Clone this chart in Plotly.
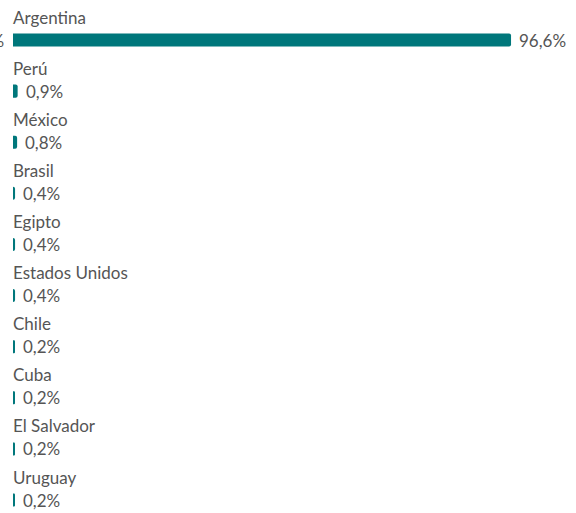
import plotly.graph_objects as go

countries = ["Argentina", "Perú", "México", "Brasil", "Egipto", "Estados Unidos",
             "Chile", "Cuba", "El Salvador", "Uruguay"]
values = [96.6, 0.9, 0.8, 0.4, 0.4, 0.4, 0.2, 0.2, 0.2, 0.2]
labels = ["96,6%", "0,9%", "0,8%", "0,4%", "0,4%", "0,4%", "0,2%", "0,2%", "0,2%", "0,2%"]

BAR = "#00777B"
TXT = "#555555"
FONT = "Lato, 'Noto Sans', sans-serif"
FS = 17

pos = list(range(len(countries)))
min_vis = 0.35
disp = [max(v, min_vis) for v in values]

fig = go.Figure(go.Bar(
    x=disp, y=pos, orientation="h", width=0.255,
    marker=dict(color=BAR, line=dict(width=0)),
    hoverinfo="skip",
))

ann = []
for i, (c, v, lab) in enumerate(zip(countries, disp, labels)):
    ann.append(dict(x=0, y=i, xref="x", yref="y", text=c, showarrow=False,
                    xanchor="left", yanchor="middle", yshift=23, xshift=-2,
                    font=dict(family=FONT, size=FS, color=TXT)))
    ann.append(dict(x=v, y=i, xref="x", yref="y", text=lab, showarrow=False,
                    xanchor="left", yanchor="middle", xshift=6,
                    font=dict(family=FONT, size=FS, color=TXT)))
# clipped label fragment at the far left edge
ann.append(dict(x=0, y=0, xref="x", yref="y", text=labels[0], showarrow=False,
                xanchor="right", yanchor="middle", xshift=-7,
                font=dict(family=FONT, size=FS, color=TXT)))

fig.update_layout(
    width=576, height=513,
    margin=dict(l=13, r=0, t=0, b=0),
    paper_bgcolor="white", plot_bgcolor="white",
    barcornerradius=2,
    showlegend=False,
    xaxis=dict(range=[0, 109.2], visible=False, fixedrange=True),
    yaxis=dict(range=[9.254, -0.783], visible=False, fixedrange=True),
    annotations=ann,
)

fig.write_html("out.html", config={"displayModeBar": False},
               post_script="document.body.style.margin='0';document.body.style.overflow='hidden';")
